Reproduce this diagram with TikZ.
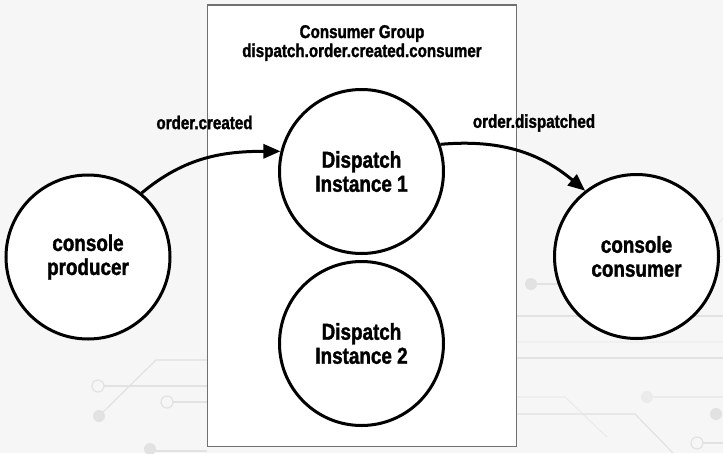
\documentclass[tikz,border=0pt]{standalone}
\usepackage{fontspec}
\newfontfamily\handfont{Liberation Sans Bold}[FakeStretch=0.82, FakeBold=1.5]
\usetikzlibrary{arrows.meta}
\definecolor{bggray}{HTML}{F6F6F6}
\definecolor{circgray}{HTML}{E2E2E2}
\definecolor{boxgray}{HTML}{707070}
\tikzset{
  bubble/.style={circle, draw=black, line width=3pt, fill=white, minimum size=164pt, inner sep=0pt,
    align=center, font=\handfont\fontsize{23}{24}\selectfont},
  lbl/.style={font=\handfont\fontsize{18.5}{19}\selectfont, align=center, inner sep=0pt},
  arr/.style={line width=3pt, -{Triangle[length=17pt,width=14pt]}},
  circ/.style={draw=circgray, line width=1.2pt},
  dotf/.style={fill=circgray, draw=none},
  doto/.style={draw=circgray, line width=1.2pt, fill=bggray},
}
\begin{document}
\begin{tikzpicture}[x=1pt,y=-1pt]
\fill[bggray] (0,0) rectangle (723,453);
\useasboundingbox (0,0) rectangle (723,453);
% background circuit decoration
\draw[circ] (99,416) -- (156,360) -- (207,360);
\draw[circ] (104,386) -- (207,386);
\draw[circ] (173,402) -- (207,402);
\draw[circ] (150,451) -- (207,451);
\fill[dotf] (99,416) circle (6);
\draw[doto] (98,386) circle (6);
\draw[doto] (167,402) circle (6);
\fill[dotf] (150,449) circle (6);
\draw[circ] (531,284) -- (600,284);
\fill[dotf] (531,284) circle (6);
\draw[circ] (517,316) -- (723,316);
\draw[circ, draw=circgray!50] (517,342) -- (723,342);
\draw[circ] (517,358) -- (723,358);
\draw[circ, draw=circgray!70] (517,397) -- (565,397) -- (607,437);
\draw[circ, draw=circgray!70] (647,397) -- (723,397);
\fill[dotf, fill=circgray!70] (647,397) circle (6);
\draw[circ] (517,414) -- (635,414) -- (673,453);
\fill[dotf] (716,414) circle (6);
\draw[circ] (703,443) -- (723,443);
\draw[doto] (697,443) circle (6);
\draw[circ, draw=circgray!70] (712,232) -- (723,218);
% consumer group box
\node[draw=boxgray, line width=1.5pt, fill=white, minimum width=309pt, minimum height=441.5pt, inner sep=0pt]
  (grp) at (362,225.75) {};
\node[lbl] (title) at (362,43) {Consumer Group\\dispatch.order.created.consumer};
% nodes
\node[bubble] (prod) at (88,257) {console\\producer};
\node[bubble] (d1) at (361.5,171.5) {Dispatch\\Instance 1};
\node[bubble] (d2) at (361.5,343.5) {Dispatch\\Instance 2};
\node[bubble] (cons) at (636.5,256.5) {console\\consumer};
% connectors
\draw[arr] (prod.50) to[out=40,in=180] (d1.166);
\draw[arr] (d1.19) to[out=5,in=140] (cons.128);
\node[lbl] (lc) at (204.5,122.5) {order.created};
\node[lbl] (ld) at (534,123) {order.dispatched};
\end{tikzpicture}
\end{document}
